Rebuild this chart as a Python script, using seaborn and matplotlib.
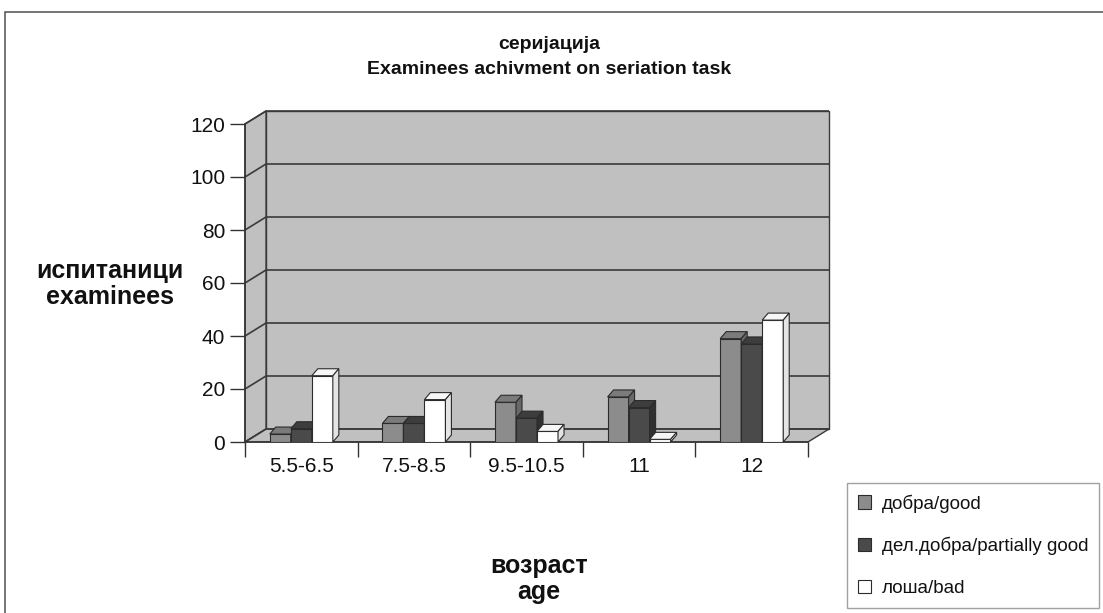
import numpy as np
import pandas as pd
import matplotlib
matplotlib.use("Agg")
import matplotlib.pyplot as plt
from matplotlib.patches import Polygon, Rectangle
import seaborn as sns

# ---- data -------------------------------------------------------------
ages = ["5.5-6.5", "7.5-8.5", "9.5-10.5", "11", "12"]
series_names = ["добра/good", "дел.добра/partially good", "лоша/bad"]
good = [3, 7, 15, 17, 39]
partially_good = [5, 7, 9, 13, 37]
bad = [25, 16, 4, 1, 46]
y_ticks = [0, 20, 40, 60, 80, 100, 120]

title_text = "серијација\nExaminees achivment on seriation task"
y_label = "испитаници\nexaminees"
x_label = "возраст\nage"

# ---- styling ----------------------------------------------------------
front_colors = ["#8c8c8c", "#4a4a4a", "#ffffff"]
top_colors = ["#7b7b7b", "#3d3d3d", "#f6f6f6"]
side_colors = ["#686868", "#303030", "#e4e4e4"]
edge_color = "#2b2b2b"
wall_color = "#c0c0c0"
grid_color = "#3a3a3a"

sns.set_theme(style="white")
plt.rcParams["font.family"] = ["Liberation Sans", "DejaVu Sans"]

df = pd.DataFrame({
    "age": ages * 3,
    "result": np.repeat(series_names, len(ages)),
    "value": good + partially_good + bad,
})

W, H = 1103, 613
fig = plt.figure(figsize=(W / 100, H / 100), dpi=100)
fig.patch.set_facecolor("white")

# outer chart frame
fig.patches.append(Rectangle((4.5 / W, -0.1), 2.0, 1 - 12 / H + 0.1,
                             transform=fig.transFigure, fill=False,
                             edgecolor="#505050", linewidth=1.1, zorder=0))

# front plane of the 3-D plot
ax = fig.add_axes([245 / W, 1 - 442 / H, 563 / W, 318 / H])
ax.set_facecolor("none")

sns.barplot(data=df, x="age", y="value", hue="result", order=ages,
            hue_order=series_names, palette=front_colors, saturation=1,
            width=0.56, errorbar=None, edgecolor=edge_color, linewidth=0.8,
            legend=False, ax=ax)

ax.set_xlim(-0.5, len(ages) - 0.5)
ax.set_ylim(0, 120)


def px_to_data(dx_px, dy_px):
    inv = ax.transData.inverted()
    p0 = inv.transform((0, 0))
    p1 = inv.transform((dx_px, dy_px))
    return p1[0] - p0[0], p1[1] - p0[1]


# depth of the walls and of the bars
wx, wy = px_to_data(21, 13)
bx, by = px_to_data(6, 7)
x0, x1 = -0.5, len(ages) - 0.5
ytop = y_ticks[-1]

# back wall, side wall and floor
ax.add_patch(Rectangle((x0 + wx, wy), x1 - x0, ytop, facecolor=wall_color,
                       edgecolor=grid_color, linewidth=1.0, zorder=0.5,
                       clip_on=False))
ax.add_patch(Polygon([(x0, 0), (x0 + wx, wy), (x0 + wx, ytop + wy), (x0, ytop)],
                     facecolor=wall_color, edgecolor=grid_color, linewidth=1.0,
                     zorder=0.6, clip_on=False))
ax.add_patch(Polygon([(x0, 0), (x1, 0), (x1 + wx, wy), (x0 + wx, wy)],
                     facecolor=wall_color, edgecolor=grid_color, linewidth=1.0,
                     zorder=0.6, clip_on=False))

# gridlines running along the side wall and the back wall
for t in y_ticks:
    ax.plot([x0, x0 + wx, x1 + wx], [t, t + wy, t + wy], color=grid_color,
            linewidth=1.2, zorder=0.8, clip_on=False, solid_capstyle="butt")

# top and side faces for every bar
for i, container in enumerate(ax.containers):
    z = 3 + i
    for patch in container.patches:
        patch.set_zorder(z)
        x = patch.get_x()
        w = patch.get_width()
        h = patch.get_height()
        ax.add_patch(Polygon([(x, h), (x + w, h), (x + w + bx, h + by), (x + bx, h + by)],
                             facecolor=top_colors[i], edgecolor=edge_color,
                             linewidth=0.8, zorder=z, clip_on=False))
        ax.add_patch(Polygon([(x + w, 0), (x + w + bx, by), (x + w + bx, h + by), (x + w, h)],
                             facecolor=side_colors[i], edgecolor=edge_color,
                             linewidth=0.8, zorder=z, clip_on=False))

# axes, ticks and labels
for side in ["top", "right"]:
    ax.spines[side].set_visible(False)
for side in ["left", "bottom"]:
    ax.spines[side].set_color("#333333")
    ax.spines[side].set_linewidth(1.1)
    ax.spines[side].set_zorder(2.5)

ax.set_yticks(y_ticks)
ax.tick_params(axis="y", which="major", length=10.8, width=1.0, color="#333333",
               pad=3.5, labelsize=15, labelcolor="#111111", left=True)
ax.set_xticks(range(len(ages)))
ax.set_xticklabels(ages)
ax.tick_params(axis="x", which="major", length=0, pad=11, labelsize=15,
               labelcolor="#111111")
ax.set_xticks(np.arange(x0, x1 + 0.01, 1.0), minor=True)
ax.tick_params(axis="x", which="minor", length=10.8, width=1.0, color="#333333",
               bottom=True)
ax.set_xlabel("")
ax.set_ylabel("")
ax.grid(False)

fig.text(549 / W, 1 - 57 / H, title_text, ha="center", va="center",
         fontsize=14, fontweight="bold", linespacing=1.55, color="#111111")
fig.text(110 / W, 1 - 284 / H, y_label, ha="center", va="center",
         fontsize=18, fontweight="bold", linespacing=1.1, color="#111111")
fig.text(539 / W, 1 - 579 / H, x_label, ha="center", va="center",
         fontsize=18, fontweight="bold", linespacing=1.1, color="#111111")

# legend
handles = [Rectangle((0, 0), 1, 1, facecolor=c, edgecolor=edge_color, linewidth=0.8)
           for c in front_colors]
leg = ax.legend(handles, series_names, loc="upper left",
                bbox_to_anchor=(847 / W, 1 - 483 / H),
                bbox_transform=fig.transFigure, borderaxespad=0,
                fontsize=13.5, frameon=True, fancybox=False, edgecolor="#8a8a8a",
                handlelength=0.7, handleheight=0.7, handletextpad=0.55,
                labelspacing=1.3, borderpad=0.6)
leg.get_frame().set_linewidth(1.0)
for t in leg.get_texts():
    t.set_color("#111111")

fig.savefig("out.png", dpi=100, facecolor="white")
